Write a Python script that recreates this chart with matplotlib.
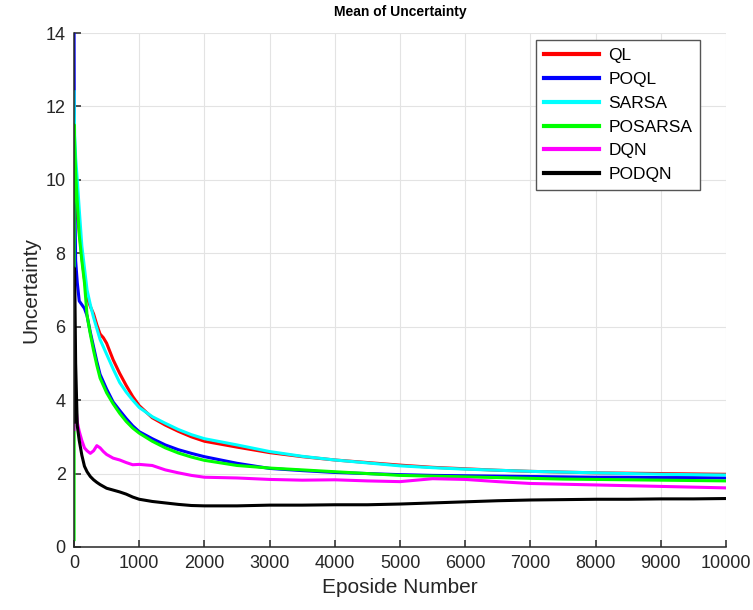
import matplotlib
matplotlib.use("Agg")
import matplotlib.pyplot as plt

episodes = [1, 3, 10, 25, 50, 80, 120, 160, 200, 250, 300, 350, 400, 450, 500,
            600, 700, 800, 900, 1000, 1200, 1400, 1600, 1800, 2000, 2500, 3000,
            3500, 4000, 4500, 5000, 5500, 6000, 6500, 7000, 7500, 8000, 8500,
            9000, 9500, 10000]

ql = [8.3, 10.0, 9.8, 9.5, 9.0, 8.6, 7.9, 7.3, 6.8, 6.55, 6.35, 6.05, 5.8, 5.7, 5.55,
      5.1, 4.73, 4.4, 4.1, 3.85, 3.52, 3.32, 3.15, 3.0, 2.88, 2.72, 2.57,
      2.46, 2.37, 2.3, 2.23, 2.17, 2.13, 2.09, 2.06, 2.04, 2.02, 2.01,
      2.0, 1.99, 1.98]
poql = [14.0, 12.4, 9.8, 7.8, 7.2, 6.7, 6.6, 6.5, 6.3, 5.85, 5.45, 5.05, 4.7, 4.5, 4.3,
        3.95, 3.72, 3.5, 3.3, 3.14, 2.95, 2.78, 2.65, 2.55, 2.46, 2.28, 2.14,
        2.08, 2.03, 2.0, 1.97, 1.95, 1.94, 1.93, 1.92, 1.91, 1.9, 1.9,
        1.89, 1.89, 1.88]
sarsa = [12.4, 12.0, 11.2, 10.6, 10.0, 9.2, 8.2, 7.6, 7.0, 6.6, 6.25, 5.95, 5.65, 5.45, 5.25,
         4.85, 4.48, 4.22, 4.0, 3.8, 3.55, 3.37, 3.2, 3.06, 2.95, 2.78, 2.6,
         2.47, 2.37, 2.29, 2.21, 2.16, 2.12, 2.09, 2.06, 2.04, 2.02, 2.0,
         1.98, 1.97, 1.96]
posarsa = [0.2, 11.5, 11.0, 10.2, 9.4, 8.5, 7.8, 7.2, 6.3, 5.8, 5.35, 4.95, 4.6, 4.4, 4.2,
           3.9, 3.64, 3.42, 3.24, 3.1, 2.88, 2.7, 2.56, 2.45, 2.36, 2.22, 2.15,
           2.1, 2.05, 2.0, 1.95, 1.93, 1.91, 1.89, 1.87, 1.85, 1.84, 1.83,
           1.82, 1.81, 1.8]
dqn = [3.2, 5.2, 4.6, 3.9, 3.4, 3.15, 2.9, 2.7, 2.62, 2.55, 2.62, 2.76, 2.7, 2.6, 2.52,
       2.42, 2.37, 2.3, 2.24, 2.25, 2.22, 2.1, 2.02, 1.95, 1.9, 1.88, 1.84,
       1.82, 1.83, 1.8, 1.78, 1.86, 1.84, 1.78, 1.73, 1.71, 1.69, 1.67,
       1.65, 1.63, 1.61]
podqn = [3.4, 7.6, 7.5, 5.0, 3.3, 2.9, 2.5, 2.2, 2.05, 1.92, 1.83, 1.76, 1.7, 1.65, 1.6,
         1.55, 1.5, 1.44, 1.36, 1.3, 1.24, 1.2, 1.16, 1.13, 1.12, 1.12, 1.14,
         1.14, 1.15, 1.15, 1.17, 1.2, 1.23, 1.26, 1.28, 1.29, 1.3, 1.3,
         1.31, 1.31, 1.32]

series = [("QL", ql, "#ff0000"), ("POQL", poql, "#0000ff"), ("SARSA", sarsa, "#00ffff"),
          ("POSARSA", posarsa, "#00ff00"), ("DQN", dqn, "#ff00ff"), ("PODQN", podqn, "#000000")]

plt.rcParams["font.family"] = ["Liberation Sans", "DejaVu Sans"]

fig = plt.figure(figsize=(7.53, 6.10), dpi=100)
ax = fig.add_axes([0.0983, 0.1033, 0.8659, 0.8426])

for name, vals, col in series:
    ax.plot(episodes, vals, color=col, lw=2.2, label=name)

ax.set_xlim(0, 10000)
ax.set_ylim(0, 14)
ax.set_xticks(range(0, 10001, 1000))
ax.set_yticks(range(0, 15, 2))
ax.grid(True, color="#e3e3e3", lw=0.8)
ax.set_axisbelow(True)
for s in ["top", "right"]:
    ax.spines[s].set_visible(False)
for s in ["left", "bottom"]:
    ax.spines[s].set_color("#262626")
    ax.spines[s].set_linewidth(1.1)
ax.tick_params(direction="in", length=5, width=1.1, color="#262626",
               labelcolor="#262626", labelsize=13, pad=6)

ax.set_xlabel("Eposide Number", fontsize=15, color="#262626", labelpad=4)
ax.set_ylabel("Uncertainty", fontsize=15, color="#262626", labelpad=4)
ax.set_title("Mean of Uncertainty", fontsize=10, fontweight="bold", pad=12)

leg = ax.legend(loc="upper right", bbox_to_anchor=(0.96, 0.986), fontsize=12.5,
                fancybox=False, framealpha=1, edgecolor="#555555",
                handlelength=3.2, handletextpad=0.5, labelspacing=0.5,
                borderpad=0.45, borderaxespad=0)
leg.get_frame().set_linewidth(1.0)
for line in leg.get_lines():
    line.set_linewidth(3.0)

fig.savefig("out.png", dpi=100)
